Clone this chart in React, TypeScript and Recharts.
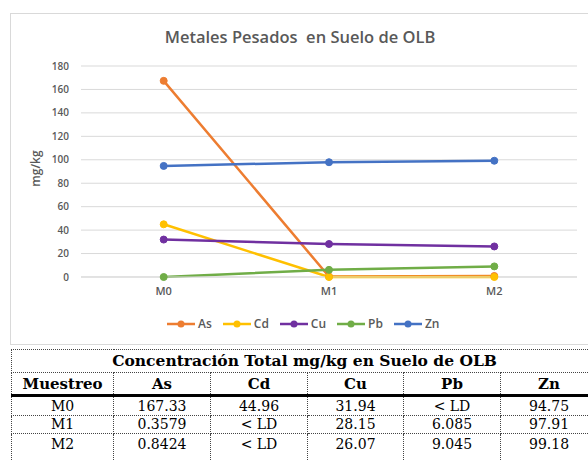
import React from "react";
import {
  LineChart,
  Line,
  XAxis,
  YAxis,
  CartesianGrid,
  Legend,
  Label,
} from "recharts";

// muestreos y concentraciones (mg/kg); "< LD" se grafica como 0
const samples = ["M0", "M1", "M2"];
const asValues = [167.33, 0.3579, 0.8424];
const cdValues = [44.96, 0, 0];
const cuValues = [31.94, 28.15, 26.07];
const pbValues = [0, 6.085, 9.045];
const znValues = [94.75, 97.91, 99.18];
const yTicks = [0, 20, 40, 60, 80, 100, 120, 140, 160, 180];

// lo que muestra la tabla
const tableHeaders = ["Muestreo", "As", "Cd", "Cu", "Pb", "Zn"];
const tableRows = [
  ["M0", "167.33", "44.96", "31.94", "< LD", "94.75"],
  ["M1", "0.3579", "< LD", "28.15", "6.085", "97.91"],
  ["M2", "0.8424", "< LD", "26.07", "9.045", "99.18"],
];
const colWidths = [102, 97, 97, 96, 97, 97];
const rowHeights = [20, 18, 30];

const series = [
  { key: "As", color: "#ED7D31" },
  { key: "Cd", color: "#FFC000" },
  { key: "Cu", color: "#7030A0" },
  { key: "Pb", color: "#70AD47" },
  { key: "Zn", color: "#4472C4" },
];

const data = samples.map((s, i) => ({
  name: s,
  As: asValues[i],
  Cd: cdValues[i],
  Cu: cuValues[i],
  Pb: pbValues[i],
  Zn: znValues[i],
}));

const FONT = "'Open Sans', 'Noto Sans', sans-serif";
const SERIF = "'DejaVu Serif', 'Liberation Serif', serif";

const LegendRow = () => (
  <div
    style={{
      display: "flex",
      alignItems: "center",
      fontFamily: FONT,
      fontSize: 12,
      fontWeight: 600,
      color: "#595959",
    }}
  >
    {series.map((s) => (
      <div key={s.key} style={{ display: "flex", alignItems: "center", marginRight: 11 }}>
        <svg width={28} height={10} style={{ marginRight: 3 }}>
          <line x1={0} y1={5} x2={28} y2={5} stroke={s.color} strokeWidth={2.5} />
          <circle cx={14} cy={5} r={3.5} fill={s.color} />
        </svg>
        <span>{s.key}</span>
      </div>
    ))}
  </div>
);

const cellBorder = "1px dotted #444";

export default function App() {
  return (
    <div
      style={{
        position: "absolute",
        left: 0,
        top: 0,
        width: 588,
        height: 461,
        overflow: "hidden",
        background: "#fff",
      }}
    >
      <div
        style={{
          position: "absolute",
          left: 10,
          top: 13,
          width: 620,
          height: 330,
          border: "1px solid #d9d9d9",
        }}
      />
      <div
        style={{
          position: "absolute",
          left: 0,
          top: 25,
          width: 600,
          textAlign: "center",
          fontFamily: FONT,
          fontSize: 16.5,
          fontWeight: 600,
          color: "#595959",
        }}
      >
        Metales Pesados&nbsp; en Suelo de OLB
      </div>
      <div style={{ position: "absolute", left: 0, top: 0 }}>
        <LineChart
          width={620}
          height={345}
          data={data}
          margin={{ top: 66, right: 43, bottom: 38, left: 0 }}
        >
          <CartesianGrid vertical={false} stroke="#d9d9d9" />
          <XAxis
            dataKey="name"
            padding={{ left: 82.7, right: 82.7 }}
            axisLine={{ stroke: "#d9d9d9" }}
            tickLine={false}
            tickSize={0}
            tickMargin={10}
            height={30}
            tick={{ fill: "#595959", fontSize: 11, fontWeight: 600, fontFamily: FONT }}
          />
          <YAxis
            domain={[0, 180]}
            ticks={yTicks}
            width={81}
            axisLine={false}
            tickLine={false}
            tickSize={0}
            tickMargin={12}
            tick={{ fill: "#595959", fontSize: 10, fontWeight: 600, fontFamily: FONT }}
          >
            <Label
              content={({ viewBox }: any) => (
                <text
                  x={viewBox.x + 35}
                  y={viewBox.y + viewBox.height / 2 - 3}
                  transform={`rotate(-90, ${viewBox.x + 35}, ${viewBox.y + viewBox.height / 2 - 3})`}
                  textAnchor="middle"
                  dominantBaseline="central"
                  fill="#595959"
                  fontSize={12}
                  fontWeight={600}
                  fontFamily={FONT}
                >
                  mg/kg
                </text>
              )}
            />
          </YAxis>
          <Legend
            layout="horizontal"
            align="center"
            verticalAlign="middle"
            content={() => <LegendRow />}
            wrapperStyle={{ top: 315, left: 167, width: "auto" }}
          />
          {series.map((s) => (
            <Line
              key={s.key}
              type="linear"
              dataKey={s.key}
              stroke={s.color}
              strokeWidth={2.5}
              dot={{ r: 3.5, fill: s.color, stroke: s.color, strokeWidth: 1 }}
              isAnimationActive={false}
            />
          ))}
        </LineChart>
      </div>
      <table
        style={{
          position: "absolute",
          left: 11,
          top: 349,
          borderCollapse: "collapse",
          tableLayout: "fixed",
          width: colWidths.reduce((a, b) => a + b, 0),
          fontFamily: SERIF,
          color: "#000",
        }}
      >
        <colgroup>
          {colWidths.map((w, i) => (
            <col key={i} style={{ width: w }} />
          ))}
        </colgroup>
        <tbody>
          <tr style={{ height: 23 }}>
            <td
              colSpan={6}
              style={{
                border: cellBorder,
                textAlign: "center",
                fontWeight: "bold",
                fontSize: 15.5,
                padding: 0,
                lineHeight: "20px",
              }}
            >
              Concentración Total mg/kg en Suelo de OLB
            </td>
          </tr>
          <tr style={{ height: 23 }}>
            {tableHeaders.map((h) => (
              <td
                key={h}
                style={{
                  border: cellBorder,
                  borderBottom: "3px solid #000",
                  textAlign: "center",
                  fontWeight: "bold",
                  fontSize: 15,
                  padding: 0,
                  lineHeight: "20px",
                }}
              >
                {h}
              </td>
            ))}
          </tr>
          {tableRows.map((row, ri) => (
            <tr key={ri} style={{ height: rowHeights[ri] }}>
              {row.map((c, ci) => (
                <td
                  key={ci}
                  style={{
                    border: cellBorder,
                    textAlign: "center",
                    verticalAlign: ri === 2 ? "top" : "middle",
                    fontSize: 14,
                    padding: ri === 2 ? "2px 0 0 0" : 0,
                    lineHeight: "17px",
                  }}
                >
                  {c}
                </td>
              ))}
            </tr>
          ))}
        </tbody>
      </table>
    </div>
  );
}
